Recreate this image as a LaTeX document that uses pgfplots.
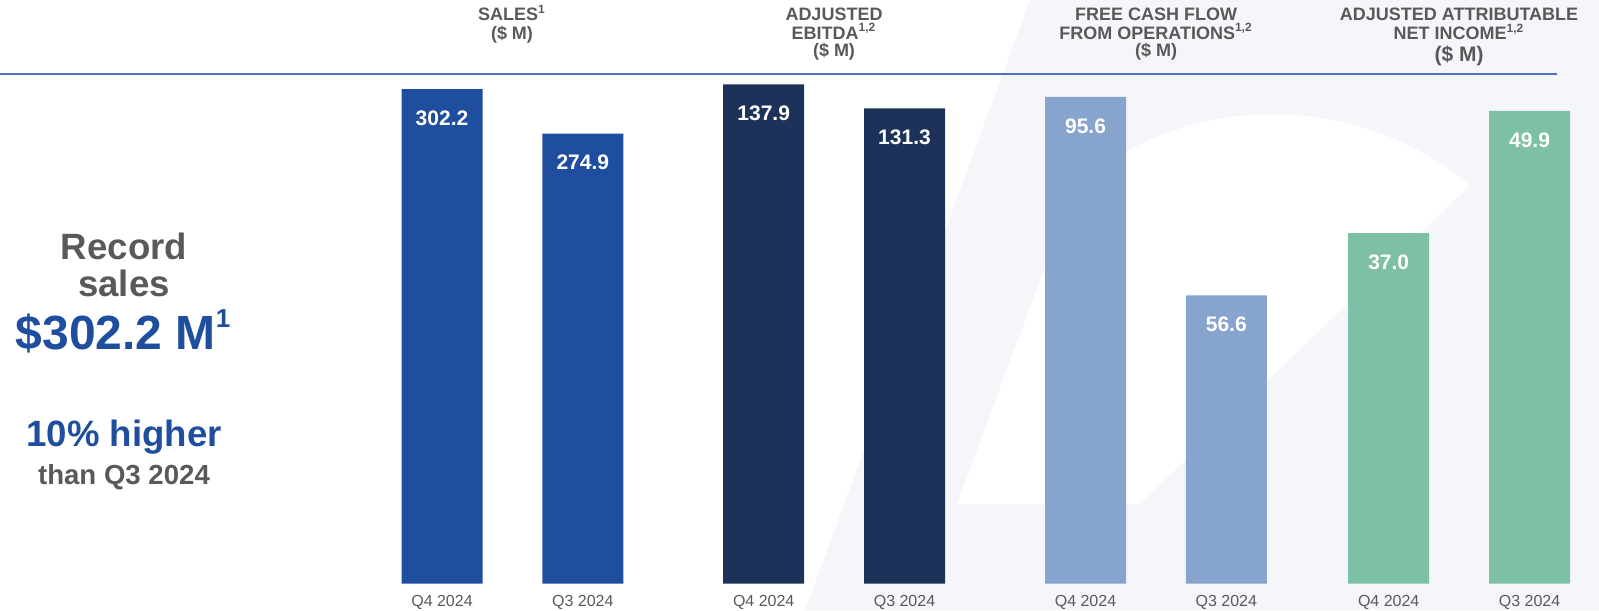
\documentclass[border=0pt]{standalone}
\usepackage{pgfplots}
\pgfplotsset{compat=1.18}
\usepackage{fontspec}
\setmainfont{Liberation Sans}
\definecolor{salesblue}{RGB}{31,78,158}
\definecolor{navy}{RGB}{28,50,89}
\definecolor{lightblue}{RGB}{135,164,207}
\definecolor{mint}{RGB}{125,192,165}
\definecolor{txtgray}{RGB}{89,89,89}
\definecolor{lineblue}{RGB}{79,114,190}
\definecolor{tint}{RGB}{244,246,250}
\pgfplotsset{
  grp/.style={
    scale only axis, width=140.8pt, height=254.75pt,
    anchor=south west, xmin=-0.5, xmax=1.5, ymin=0,
    axis line style={draw=none}, major tick length=0pt,
    ytick=\empty, xtick={0,1}, xticklabels={Q4 2024,Q3 2024},
    xticklabel style={font=\fontsize{8}{9}\selectfont, text=txtgray, anchor=base, yshift=-11.6pt, inner sep=0pt},
    ybar, bar width=40.5pt, clip=false,
    point meta=explicit symbolic,
    nodes near coords,
    every node near coord/.append style={anchor=center, yshift=-14.5pt, font=\bfseries\fontsize{10.5}{12}\selectfont, text=white},
  }
}
\begin{document}
\begin{tikzpicture}
\path[use as bounding box] (0,0) rectangle (799.5pt,305pt);
\begin{scope}[x=0.5pt, y=-0.5pt, shift={(0,305pt)}]
  \fill[tint] (805,610) -- (1030,0) -- (1599,0) -- (1599,610) -- cycle;
  \fill[white] (957,504) -- (1070,200) .. controls (1140,110) and (1330,70) .. (1470,185) -- (1140,504) -- cycle;
  \draw[lineblue, line width=1pt] (0,74) -- (1557,74);
  % titles
  \begin{scope}[every node/.style={anchor=base, inner sep=0pt, text=txtgray, font=\bfseries\fontsize{9}{9}\selectfont}]
    \node at (512,20.7) {SALES\textsuperscript{1}};
    \node at (512,39.3) {(\$ M)};
    \node at (834,20.7) {ADJUSTED};
    \node at (834,39.3) {EBITDA\textsuperscript{1,2}};
    \node at (834,56.7) {(\$ M)};
    \node at (1156,20.7) {FREE CASH FLOW};
    \node at (1156,39.3) {FROM OPERATIONS\textsuperscript{1,2}};
    \node at (1156,56.7) {(\$ M)};
    \node at (1459,20.7) {ADJUSTED ATTRIBUTABLE};
    \node at (1459,40) {NET INCOME\textsuperscript{1,2}};
    \node[font=\bfseries\fontsize{10.5}{10.5}\selectfont] at (1459,62) {(\$ M)};
  \end{scope}
  % left text
  \begin{scope}[every node/.style={anchor=base, inner sep=0pt}]
    \node[text=txtgray, font=\bfseries\fontsize{18.3}{20}\selectfont] at (124,260) {Record};
    \node[text=txtgray, font=\bfseries\fontsize{18.3}{20}\selectfont] at (124,296.7) {sales};
    \node[text=salesblue, font=\bfseries\fontsize{24}{26}\selectfont] at (123,350) {\$302.2 M\raisebox{0.9ex}{\fontsize{13}{13}\selectfont 1}};
    \node[text=salesblue, font=\bfseries\fontsize{18.3}{20}\selectfont] at (124,446.7) {10\% higher};
    \node[text=txtgray, font=\bfseries\fontsize{13.8}{15}\selectfont] at (124,485) {than Q3 2024};
  \end{scope}
\end{scope}

\begin{axis}[grp, at={(185.8pt,13.25pt)}, ymax=311.4]
  \addplot[fill=salesblue, draw=none] coordinates {(0,302.2) [302.2] (1,274.9) [274.9]};
\end{axis}
\begin{axis}[grp, at={(346.65pt,13.25pt)}, ymax=140.8]
  \addplot[fill=navy, draw=none] coordinates {(0,137.9) [137.9] (1,131.3) [131.3]};
\end{axis}
\begin{axis}[grp, at={(507.55pt,13.25pt)}, ymax=100.1]
  \addplot[fill=lightblue, draw=none] coordinates {(0,95.6) [95.6] (1,56.6) [56.6]};
\end{axis}
\begin{axis}[grp, at={(659.15pt,13.25pt)}, ymax=53.8]
  \addplot[fill=mint, draw=none] coordinates {(0,37.0) [37.0] (1,49.9) [49.9]};
\end{axis}
\end{tikzpicture}
\end{document}
